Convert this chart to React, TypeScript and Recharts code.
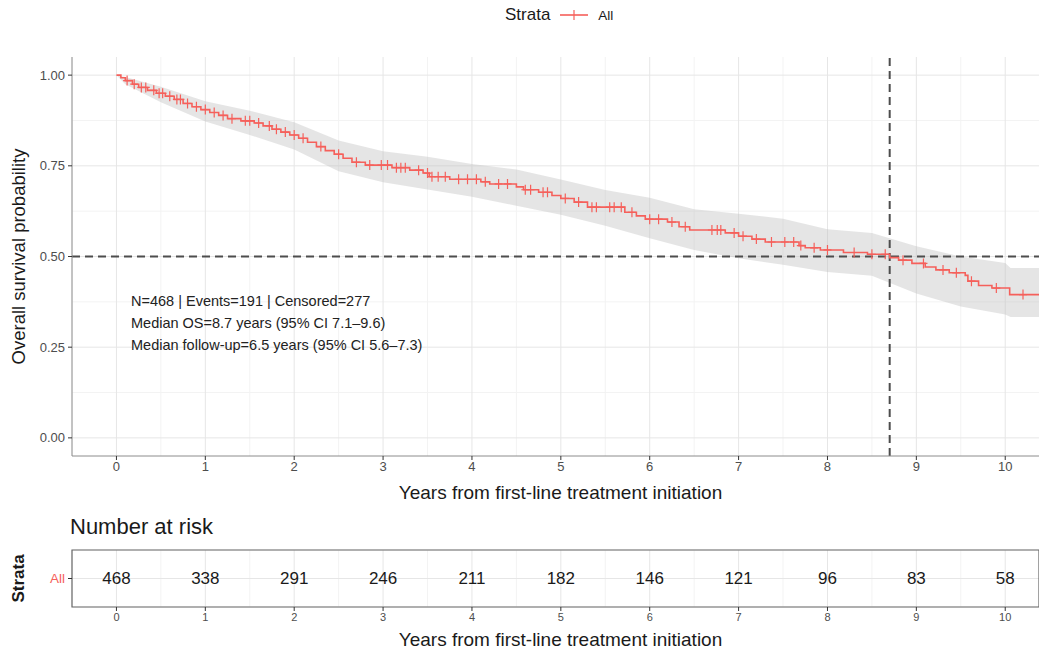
import {
  CartesianGrid,
  ComposedChart,
  Area,
  Line,
  ReferenceArea,
  ReferenceLine,
  Scatter,
  XAxis,
  YAxis,
} from "recharts";

// Kaplan-Meier step points
const kmTimes = [
  0, 0.05, 0.1, 0.18, 0.25, 0.35, 0.45, 0.55, 0.65, 0.75, 0.85, 0.95, 1.05, 1.15, 1.25, 1.4, 1.55, 1.65,
  1.75, 1.85, 1.95, 2.05, 2.15, 2.25, 2.35, 2.45, 2.55, 2.65, 2.8, 3.1, 3.3, 3.45, 3.52, 3.75, 4.1, 4.2,
  4.5, 4.58, 4.75, 4.9, 5.0, 5.15, 5.3, 5.72, 5.85, 5.95, 6.2, 6.33, 6.45, 6.85, 7.0, 7.15, 7.3, 7.68,
  7.75, 7.92, 8.18, 8.45, 8.7, 8.8, 8.95, 9.1, 9.22, 9.37, 9.55, 9.58, 9.7, 9.85, 10.05, 10.4,
];
const kmSurv = [
  1.0, 0.993, 0.985, 0.975, 0.966, 0.958, 0.95, 0.942, 0.933, 0.922, 0.913, 0.905, 0.897, 0.889, 0.88,
  0.874, 0.868, 0.86, 0.851, 0.843, 0.835, 0.826, 0.815, 0.803, 0.792, 0.782, 0.771, 0.76, 0.752, 0.745,
  0.738, 0.73, 0.72, 0.713, 0.706, 0.7, 0.692, 0.684, 0.677, 0.668, 0.66, 0.65, 0.636, 0.622, 0.612,
  0.603, 0.595, 0.582, 0.573, 0.565, 0.556, 0.548, 0.54, 0.53, 0.524, 0.518, 0.511, 0.506, 0.497, 0.49,
  0.481, 0.471, 0.463, 0.455, 0.448, 0.432, 0.42, 0.413, 0.395, 0.395,
];

// 95% confidence band
const ciTimes = [0, 0.1, 0.5, 1, 1.5, 2, 2.5, 3, 3.5, 4, 4.5, 5, 5.5, 6, 6.5, 7, 7.5, 8, 8.5, 9, 9.5, 10, 10.06, 10.4];
const ciLower = [
  1.0, 0.975, 0.925, 0.872, 0.835, 0.795, 0.735, 0.705, 0.685, 0.665, 0.64, 0.615, 0.585, 0.55, 0.518,
  0.495, 0.477, 0.457, 0.447, 0.398, 0.362, 0.34, 0.333, 0.333,
];
const ciUpper = [
  1.0, 0.995, 0.968, 0.928, 0.902, 0.87, 0.82, 0.79, 0.775, 0.755, 0.74, 0.712, 0.683, 0.662, 0.63,
  0.618, 0.604, 0.575, 0.565, 0.528, 0.5, 0.482, 0.468, 0.468,
];

// censoring marks
const censorTimes = [
  0.12, 0.2, 0.28, 0.33, 0.42, 0.48, 0.52, 0.6, 0.68, 0.72, 0.8, 0.9, 1.0, 1.1, 1.2, 1.3, 1.45, 1.5, 1.6,
  1.72, 1.8, 1.9, 2.0, 2.1, 2.3, 2.5, 2.7, 2.85, 2.98, 3.05, 3.15, 3.2, 3.25, 3.4, 3.5, 3.55, 3.62, 3.7,
  3.85, 3.95, 4.05, 4.15, 4.3, 4.4, 4.6, 4.66, 4.8, 4.85, 5.05, 5.2, 5.35, 5.4, 5.55, 5.6, 5.68, 5.8, 6.0,
  6.1, 6.25, 6.4, 6.7, 6.76, 6.8, 6.95, 7.05, 7.2, 7.37, 7.52, 7.62, 7.7, 7.85, 8.0, 8.3, 8.5, 8.65, 8.85,
  9.08, 9.3, 9.45, 9.62, 9.9, 10.2,
];

// number at risk
const riskTimes = [0, 1, 2, 3, 4, 5, 6, 7, 8, 9, 10];
const riskCounts = [468, 338, 291, 246, 211, 182, 146, 121, 96, 83, 58];

const medianOS = 8.7;
const xTicks = [0, 1, 2, 3, 4, 5, 6, 7, 8, 9, 10];
const xMinor = [-0.5, 0.5, 1.5, 2.5, 3.5, 4.5, 5.5, 6.5, 7.5, 8.5, 9.5];
const yTicks = [0, 0.25, 0.5, 0.75, 1];
const yMinor = [0.125, 0.375, 0.625, 0.875];

const RED = "#F5605B";
const FONT = "'Liberation Sans', Arial, sans-serif";
const X_DOMAIN: [number, number] = [-0.5, 10.38];

function survAt(t: number) {
  let s = kmSurv[0];
  for (let i = 0; i < kmTimes.length; i++) {
    if (kmTimes[i] <= t) s = kmSurv[i];
  }
  return s;
}

const kmData = kmTimes.map((t, i) => ({ t, s: kmSurv[i] }));
const ciData = ciTimes.map((t, i) => ({ t, band: [ciLower[i], ciUpper[i]] }));
const censorData = censorTimes.map((t) => ({ t, s: survAt(t) }));
const riskData = riskTimes.map((t, i) => ({ t, y: 1, n: riskCounts[i] }));

const CensorMark = (props: any) => {
  const { cx, cy } = props;
  if (cx == null || cy == null) return null;
  return (
    <path
      d={`M${cx - 4},${cy}H${cx + 4}M${cx},${cy - 5}V${cy + 5}`}
      stroke={RED}
      strokeWidth={1.2}
      fill="none"
    />
  );
};

const RiskNumber = (props: any) => {
  const { cx, cy, payload } = props;
  return (
    <text x={cx} y={cy} textAnchor="middle" dominantBaseline="central" fontSize={17} fill="#1a1a1a" fontFamily={FONT}>
      {payload.n}
    </text>
  );
};

const RotTitle = ({ viewBox, text, bold, size }: any) => {
  const cy = viewBox.y + viewBox.height / 2;
  return (
    <text
      x={18}
      y={cy}
      transform={`rotate(-90, 18, ${cy})`}
      textAnchor="middle"
      dominantBaseline="central"
      fontSize={size}
      fontWeight={bold ? "bold" : "normal"}
      fill="#1a1a1a"
      fontFamily={FONT}
    >
      {text}
    </text>
  );
};

const tickStyle = { fontSize: 13, fill: "#4d4d4d", fontFamily: FONT };

export default function App() {
  return (
    <div
      style={{
        position: "absolute",
        left: 0,
        top: 0,
        width: 1039,
        height: 650,
        background: "#fff",
        fontFamily: FONT,
        overflow: "hidden",
      }}
    >
      {/* legend */}
      <div style={{ position: "absolute", top: 4, left: 505, display: "flex", alignItems: "center", color: "#1a1a1a", height: 22 }}>
        <span style={{ fontSize: 17 }}>Strata</span>
        <svg width={28} height={16} style={{ margin: "0 10px 0 10px" }}>
          <line x1={0} y1={8} x2={28} y2={8} stroke={RED} strokeWidth={1.6} />
          <line x1={14} y1={3} x2={14} y2={13} stroke={RED} strokeWidth={1.2} />
        </svg>
        <span style={{ fontSize: 13.5 }}>All</span>
      </div>

      <div style={{ position: "absolute", top: 0, left: 0 }}>
        <ComposedChart width={1039} height={512} margin={{ top: 57, right: 0, bottom: 0, left: 0 }}>
          <CartesianGrid stroke="#f3f3f3" verticalValues={xMinor} horizontalValues={yMinor} />
          <CartesianGrid stroke="#e6e6e6" verticalValues={xTicks} horizontalValues={yTicks} />
          <XAxis
            type="number"
            dataKey="t"
            domain={X_DOMAIN}
            ticks={xTicks}
            allowDataOverflow
            height={56}
            tick={tickStyle}
            tickSize={4}
            tickMargin={2}
            axisLine={{ stroke: "#8c8c8c" }}
            tickLine={{ stroke: "#333" }}
            label={{ value: "Years from first-line treatment initiation", position: "insideBottom", offset: 13, fontSize: 19, fill: "#1a1a1a", dx: 5 }}
          />
          <YAxis
            type="number"
            domain={[-0.05, 1.05]}
            ticks={yTicks}
            allowDataOverflow
            width={72}
            tick={tickStyle}
            tickFormatter={(v: number) => v.toFixed(2)}
            tickSize={4}
            tickMargin={3}
            axisLine={{ stroke: "#8c8c8c" }}
            tickLine={{ stroke: "#333" }}
            label={(p: any) => <RotTitle viewBox={p.viewBox} text="Overall survival probability" size={18.5} />}
          />
          <Area
            data={ciData}
            dataKey="band"
            type="linear"
            fill="#bdbdbd"
            fillOpacity={0.4}
            stroke="none"
            isAnimationActive={false}
          />
          <ReferenceLine y={0.5} stroke="#4d4d4d" strokeWidth={2} strokeDasharray="8 5" />
          <ReferenceLine x={medianOS} stroke="#4d4d4d" strokeWidth={2} strokeDasharray="8 5" />
          <Line
            data={kmData}
            dataKey="s"
            type="stepAfter"
            stroke={RED}
            strokeWidth={1.6}
            dot={false}
            isAnimationActive={false}
          />
          <Scatter data={censorData} dataKey="s" shape={CensorMark} isAnimationActive={false} />
        </ComposedChart>
      </div>

      {/* summary text */}
      <div style={{ position: "absolute", left: 131, top: 290, fontSize: 14.5, lineHeight: "22px", color: "#222" }}>
        <div>N=468 | Events=191 | Censored=277</div>
        <div>Median OS=8.7 years (95% CI 7.1–9.6)</div>
        <div>Median follow-up=6.5 years (95% CI 5.6–7.3)</div>
      </div>

      <div style={{ position: "absolute", left: 70, top: 514, fontSize: 22, color: "#1a1a1a" }}>Number at risk</div>

      <div style={{ position: "absolute", top: 540, left: 0 }}>
        <ComposedChart width={1039} height={110} margin={{ top: 10, right: 0, bottom: 0, left: 0 }}>
          <CartesianGrid stroke="#f3f3f3" verticalValues={xMinor} horizontalValues={[]} />
          <CartesianGrid stroke="#e6e6e6" verticalValues={xTicks} horizontalValues={[1]} />
          <XAxis
            type="number"
            dataKey="t"
            domain={X_DOMAIN}
            ticks={xTicks}
            allowDataOverflow
            height={43}
            tick={{ fontSize: 11, fill: "#4d4d4d", fontFamily: FONT }}
            tickSize={4}
            tickMargin={2}
            axisLine={false}
            tickLine={{ stroke: "#333" }}
            label={{ value: "Years from first-line treatment initiation", position: "insideBottom", offset: 4, fontSize: 19, fill: "#1a1a1a", dx: 5 }}
          />
          <YAxis
            type="number"
            domain={[0, 2]}
            ticks={[1]}
            width={72}
            tickFormatter={() => "All"}
            tick={{ fontSize: 13.5, fill: RED, fontFamily: FONT }}
            tickSize={4}
            tickMargin={3}
            axisLine={false}
            tickLine={{ stroke: "#333" }}
            label={(p: any) => <RotTitle viewBox={p.viewBox} text="Strata" size={17} bold />}
          />
          <ReferenceArea x1={X_DOMAIN[0]} x2={X_DOMAIN[1]} y1={0} y2={2} fill="none" stroke="#666" strokeWidth={1.2} />
          <Scatter data={riskData} dataKey="y" shape={RiskNumber} isAnimationActive={false} />
        </ComposedChart>
      </div>
    </div>
  );
}
